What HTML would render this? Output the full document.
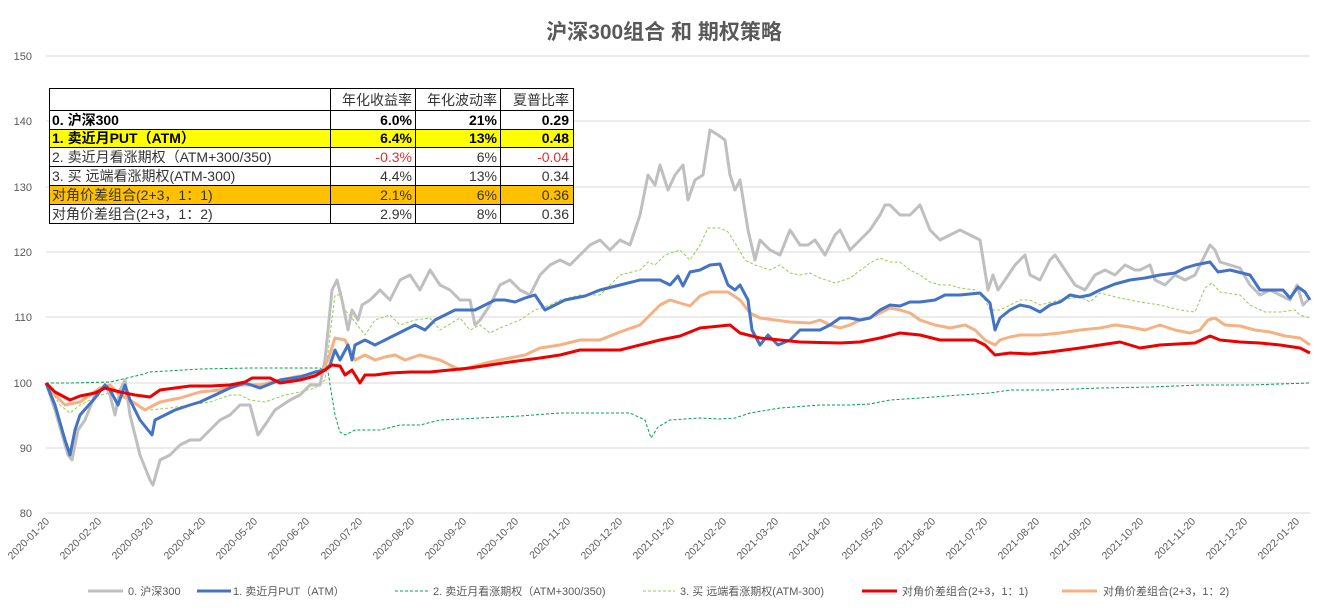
<!DOCTYPE html>
<html><head><meta charset="utf-8"><style>
body{margin:0;background:#fff;font-family:"Liberation Sans","Noto Sans CJK SC",sans-serif;}
</style></head><body>
<svg width="1329" height="611" xmlns="http://www.w3.org/2000/svg" font-family="Liberation Sans, Noto Sans CJK SC, sans-serif">
<rect width="1329" height="611" fill="#fff"/>
<text x="664" y="39" text-anchor="middle" font-size="21" font-weight="bold" fill="#595959">沪深300组合 和 期权策略</text>
<g stroke="#d9d9d9" stroke-width="1">
<line x1="46" x2="1310" y1="56" y2="56"/><line x1="46" x2="1310" y1="121" y2="121"/><line x1="46" x2="1310" y1="187" y2="187"/><line x1="46" x2="1310" y1="252" y2="252"/><line x1="46" x2="1310" y1="317" y2="317"/><line x1="46" x2="1310" y1="383" y2="383"/><line x1="46" x2="1310" y1="448" y2="448"/><line x1="46" x2="1310" y1="513" y2="513"/>
</g>
<g font-size="11" fill="#595959" text-anchor="end">
<text x="32" y="60">150</text><text x="32" y="125">140</text><text x="32" y="191">130</text><text x="32" y="256">120</text><text x="32" y="321">110</text><text x="32" y="387">100</text><text x="32" y="452">90</text><text x="32" y="517">80</text>
</g>
<g id="xl" font-size="10.5" fill="#595959" text-anchor="end"></g>
<g fill="none" stroke-linejoin="round">
<polyline stroke="#00a050" stroke-width="1" stroke-dasharray="3,2" points="46,383 70,383 110,382 140,375 150,372 200,369 250,368 300,368 320,368 328,372 335,415 340,432 345,435 355,430 380,430 400,425 420,425 440,420 480,418 520,416 560,413 600,413 630,413 645,420 651,438 658,427 670,420 700,418 720,419 735,418 750,413 780,408 820,405 850,405 870,404 890,400 920,398 960,395 990,393 1010,390 1050,390 1100,388 1150,387 1200,385 1250,385 1310,383"/>
<polyline stroke="#92d050" stroke-width="1" stroke-dasharray="3,2" points="46,383 60,405 70,413 80,405 100,395 115,392 125,395 135,405 150,410 170,408 190,405 210,402 230,395 240,395 250,400 265,402 285,395 300,392 315,388 325,380 330,335 335,295 340,295 345,310 355,322 365,335 375,320 390,315 400,325 415,320 430,318 440,330 460,318 470,330 480,325 490,333 500,328 520,320 535,310 550,305 560,300 580,295 600,295 610,285 620,275 640,270 648,262 655,265 665,255 680,250 690,260 700,245 708,228 720,228 728,232 735,243 745,260 755,265 770,270 780,265 790,273 800,275 810,273 820,278 835,283 850,278 870,263 880,258 890,262 900,262 910,270 920,275 930,282 940,285 950,285 960,288 975,290 985,300 990,310 1000,310 1010,305 1020,300 1030,300 1040,305 1060,300 1080,297 1090,302 1100,293 1120,298 1140,302 1160,305 1180,310 1195,312 1205,288 1212,283 1220,292 1240,295 1250,305 1265,312 1280,312 1295,310 1300,315 1310,318"/>
<polyline stroke="#bfbfbf" stroke-width="3" points="46,383 55,410 68,455 72,460 78,430 85,420 95,395 105,385 110,395 115,415 120,390 125,380 130,415 140,455 150,480 153,485 160,460 170,455 180,445 190,440 200,440 210,430 220,420 230,415 240,405 250,405 258,435 265,425 275,410 290,400 300,395 310,385 320,385 325,360 332,290 337,280 342,300 348,330 352,310 358,320 362,305 370,300 380,290 390,300 400,280 410,275 420,290 430,270 440,285 450,290 460,300 470,300 475,325 480,320 490,305 500,285 510,280 520,290 530,295 540,275 550,265 560,260 570,265 580,255 590,245 600,240 610,250 620,240 630,245 640,215 648,175 655,185 660,165 668,190 675,175 683,165 688,200 695,180 703,175 710,130 718,135 725,140 730,175 735,190 740,180 748,230 755,260 760,240 770,250 780,255 790,230 800,245 808,245 815,240 825,255 835,235 840,230 850,250 860,240 870,230 880,215 885,205 890,205 900,215 910,215 920,205 930,230 940,240 950,235 960,230 970,235 980,240 988,290 993,275 998,290 1005,280 1015,265 1025,255 1030,275 1040,280 1050,260 1055,255 1065,270 1075,285 1085,290 1095,275 1105,270 1115,275 1125,265 1135,270 1140,270 1150,265 1155,280 1165,285 1175,275 1185,280 1195,275 1205,255 1210,245 1215,250 1220,262 1230,265 1240,268 1250,285 1260,295 1270,290 1280,295 1290,300 1297,285 1303,305 1308,300"/>
<polyline stroke="#f4b183" stroke-width="3" points="46,383 55,395 65,405 80,402 100,388 110,385 120,395 130,400 145,410 160,402 180,398 200,392 220,390 240,385 260,385 280,380 300,376 320,374 328,360 335,338 345,340 355,360 365,355 375,360 385,357 395,355 405,360 420,355 440,360 460,370 475,366 490,362 500,360 510,358 525,355 540,348 560,345 580,340 600,340 620,332 640,325 650,315 660,305 670,300 680,303 690,306 700,296 710,292 728,292 740,300 750,313 760,318 775,320 790,322 810,323 820,320 830,325 840,328 850,325 860,320 870,318 880,313 890,308 900,310 910,313 920,320 935,325 950,328 965,325 975,330 985,340 995,345 1000,340 1010,337 1020,335 1040,335 1060,333 1080,330 1100,328 1115,325 1130,327 1145,330 1160,325 1175,330 1190,333 1200,330 1208,320 1215,318 1225,325 1240,326 1255,330 1270,332 1285,336 1300,338 1310,345"/>
<polyline stroke="#4472c4" stroke-width="3" points="46,383 55,405 65,440 70,455 75,430 80,415 95,398 105,385 110,390 118,405 125,385 130,400 140,420 148,430 152,435 155,420 165,415 175,410 190,405 200,402 215,395 230,388 245,383 260,388 280,380 300,377 315,372 325,370 330,365 335,350 340,360 348,345 352,360 355,345 365,340 375,345 385,340 395,335 405,330 415,325 425,330 435,320 445,315 455,310 475,310 485,305 495,300 505,300 515,302 525,298 535,295 545,310 555,305 565,300 575,298 585,296 600,290 620,285 640,280 660,280 670,285 678,276 683,286 690,272 700,270 710,265 720,264 728,285 735,290 740,285 748,300 752,330 760,345 768,335 778,345 790,340 800,330 820,330 830,325 840,318 850,318 860,320 870,318 880,310 890,305 900,306 910,302 920,302 935,300 945,295 960,295 980,293 990,303 995,330 1000,318 1010,310 1020,305 1030,307 1040,312 1050,305 1060,302 1070,295 1080,297 1090,295 1100,290 1115,284 1130,280 1145,278 1160,275 1175,273 1185,268 1195,265 1210,262 1218,272 1230,270 1250,275 1260,290 1270,290 1283,290 1290,298 1298,287 1305,292 1310,300"/>
<polyline stroke="#ee0000" stroke-width="3" points="46,383 55,392 70,400 80,396 95,393 105,388 120,392 135,395 150,397 160,390 175,388 190,386 210,386 230,385 245,382 252,378 270,378 280,383 300,380 315,376 325,370 332,365 340,366 345,375 352,370 360,383 365,375 375,375 390,373 410,372 430,372 450,370 470,368 490,365 510,362 540,358 560,355 580,350 620,350 640,345 660,340 680,336 700,328 730,325 740,333 760,338 780,340 800,342 840,343 860,342 880,338 900,333 920,335 940,340 975,340 985,345 995,355 1010,353 1030,354 1050,352 1080,348 1100,345 1120,342 1140,348 1160,345 1195,343 1210,336 1220,340 1240,342 1260,343 1280,345 1300,348 1310,353"/>
</g>
<!-- table -->
<g font-size="14">
<rect x="49" y="110" width="524" height="19" fill="#fff"/>
<rect x="49" y="129" width="524" height="18" fill="#ffff00"/>
<rect x="49" y="185" width="524" height="19" fill="#ffc000"/>
<g stroke="#000" stroke-width="1" fill="none">
<rect x="49.5" y="88.5" width="524" height="135"/>
<line x1="49" x2="573" y1="110.5" y2="110.5"/><line x1="49" x2="573" y1="129.5" y2="129.5"/><line x1="49" x2="573" y1="147.5" y2="147.5"/><line x1="49" x2="573" y1="166.5" y2="166.5"/><line x1="49" x2="573" y1="185.5" y2="185.5"/><line x1="49" x2="573" y1="204.5" y2="204.5"/>
<line x1="330.5" x2="330.5" y1="88" y2="224"/><line x1="415.5" x2="415.5" y1="88" y2="224"/><line x1="500.5" x2="500.5" y1="88" y2="224"/>
</g>
<g fill="#000">
<text x="412" y="105" text-anchor="end" fill="#333">年化收益率</text><text x="497" y="105" text-anchor="end" fill="#333">年化波动率</text><text x="569" y="105" text-anchor="end" fill="#333">夏普比率</text>
<g font-weight="bold"><text x="52" y="125">0. 沪深300</text><text x="412" y="125" text-anchor="end">6.0%</text><text x="497" y="125" text-anchor="end">21%</text><text x="569" y="125" text-anchor="end">0.29</text>
<text x="52" y="143">1. 卖近月PUT（ATM）</text><text x="412" y="143" text-anchor="end">6.4%</text><text x="497" y="143" text-anchor="end">13%</text><text x="569" y="143" text-anchor="end">0.48</text></g>
<text x="52" y="162" fill="#333">2. 卖近月看涨期权（ATM+300/350)</text><text x="412" y="162" text-anchor="end" fill="#e03030">-0.3%</text><text x="497" y="162" text-anchor="end" fill="#333">6%</text><text x="569" y="162" text-anchor="end" fill="#e03030">-0.04</text>
<text x="52" y="181" fill="#333">3. 买 远端看涨期权(ATM-300)</text><text x="412" y="181" text-anchor="end" fill="#333">4.4%</text><text x="497" y="181" text-anchor="end" fill="#333">13%</text><text x="569" y="181" text-anchor="end" fill="#333">0.34</text>
<text x="52" y="200" fill="#333">对角价差组合(2+3，1：1)</text><text x="412" y="200" text-anchor="end" fill="#333">2.1%</text><text x="497" y="200" text-anchor="end" fill="#333">6%</text><text x="569" y="200" text-anchor="end" fill="#333">0.36</text>
<text x="52" y="219" fill="#333">对角价差组合(2+3，1：2)</text><text x="412" y="219" text-anchor="end" fill="#333">2.9%</text><text x="497" y="219" text-anchor="end" fill="#333">8%</text><text x="569" y="219" text-anchor="end" fill="#333">0.36</text>
</g></g>
<!-- legend -->
<g font-size="11" fill="#595959">
<line x1="88" x2="123" y1="591" y2="591" stroke="#bfbfbf" stroke-width="3"/><text x="128" y="595">0. 沪深300</text>
<line x1="197" x2="231" y1="591" y2="591" stroke="#4472c4" stroke-width="3"/><text x="233" y="595">1. 卖近月PUT（ATM）</text>
<line x1="395" x2="428" y1="591" y2="591" stroke="#00a050" stroke-width="1" stroke-dasharray="3,2"/><text x="433" y="595">2. 卖近月看涨期权（ATM+300/350)</text>
<line x1="643" x2="675" y1="591" y2="591" stroke="#92d050" stroke-width="1" stroke-dasharray="3,2"/><text x="680" y="595">3. 买 远端看涨期权(ATM-300)</text>
<line x1="862" x2="897" y1="591" y2="591" stroke="#ee0000" stroke-width="3"/><text x="902" y="595">对角价差组合(2+3，1：1)</text>
<line x1="1062" x2="1097" y1="591" y2="591" stroke="#f4b183" stroke-width="3"/><text x="1103" y="595">对角价差组合(2+3，1：2)</text>
</g>
<g font-size="10.5" fill="#595959" text-anchor="end">
<text transform="translate(50,522) rotate(-45)">2020-01-20</text>
<text transform="translate(102,522) rotate(-45)">2020-02-20</text>
<text transform="translate(154,522) rotate(-45)">2020-03-20</text>
<text transform="translate(206,522) rotate(-45)">2020-04-20</text>
<text transform="translate(258,522) rotate(-45)">2020-05-20</text>
<text transform="translate(310,522) rotate(-45)">2020-06-20</text>
<text transform="translate(363,522) rotate(-45)">2020-07-20</text>
<text transform="translate(415,522) rotate(-45)">2020-08-20</text>
<text transform="translate(467,522) rotate(-45)">2020-09-20</text>
<text transform="translate(519,522) rotate(-45)">2020-10-20</text>
<text transform="translate(571,522) rotate(-45)">2020-11-20</text>
<text transform="translate(623,522) rotate(-45)">2020-12-20</text>
<text transform="translate(675,522) rotate(-45)">2021-01-20</text>
<text transform="translate(727,522) rotate(-45)">2021-02-20</text>
<text transform="translate(779,522) rotate(-45)">2021-03-20</text>
<text transform="translate(831,522) rotate(-45)">2021-04-20</text>
<text transform="translate(884,522) rotate(-45)">2021-05-20</text>
<text transform="translate(936,522) rotate(-45)">2021-06-20</text>
<text transform="translate(988,522) rotate(-45)">2021-07-20</text>
<text transform="translate(1040,522) rotate(-45)">2021-08-20</text>
<text transform="translate(1092,522) rotate(-45)">2021-09-20</text>
<text transform="translate(1144,522) rotate(-45)">2021-10-20</text>
<text transform="translate(1196,522) rotate(-45)">2021-11-20</text>
<text transform="translate(1248,522) rotate(-45)">2021-12-20</text>
<text transform="translate(1300,522) rotate(-45)">2022-01-20</text>
</g>
</svg>
</body></html>
